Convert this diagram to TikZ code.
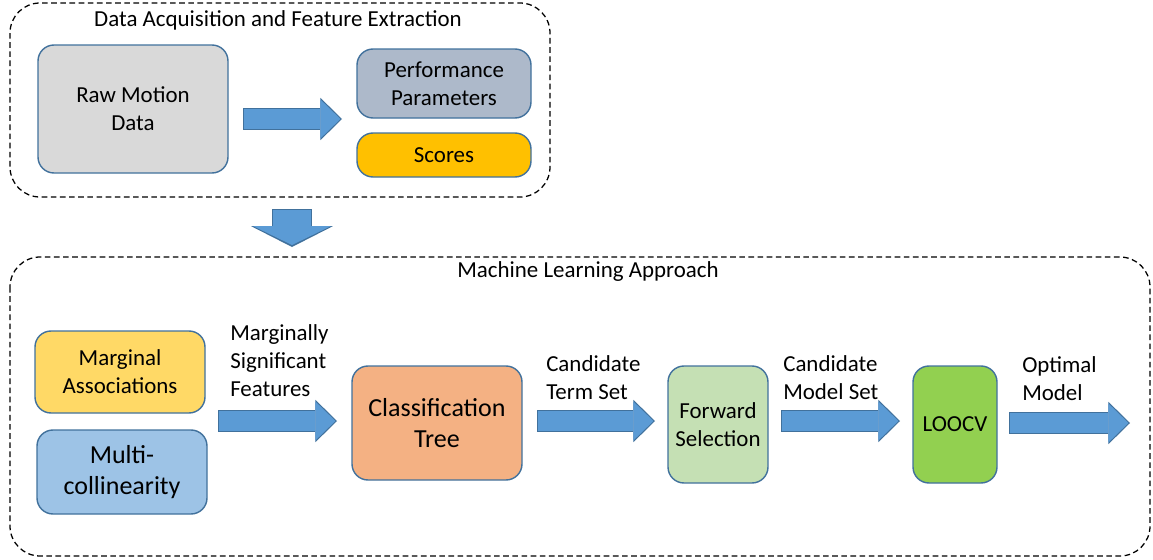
\documentclass[tikz,border=0pt]{standalone}
\usepackage{fontspec}
\setmainfont{Carlito}
\usetikzlibrary{arrows.meta,positioning}
\definecolor{boxline}{RGB}{65,113,156}
\definecolor{rawcolor}{RGB}{217,217,217}
\definecolor{perfcolor}{RGB}{173,185,202}
\definecolor{scorecolor}{RGB}{255,192,0}
\definecolor{assoccolor}{RGB}{255,217,102}
\definecolor{multicolor}{RGB}{157,195,230}
\definecolor{treecolor}{RGB}{244,177,131}
\definecolor{fwdcolor}{RGB}{197,224,180}
\definecolor{loocvcolor}{RGB}{146,208,80}
\definecolor{arrowfill}{RGB}{91,155,213}

\begin{document}
\begin{tikzpicture}[
    font=\fontsize{16.3}{19.9}\selectfont,
    box/.style={rectangle, draw=boxline, line width=1pt, rounded corners=0.4cm, align=center, inner sep=2pt},
    bigtext/.style={font=\fontsize{18.5}{22.5}\selectfont},
    groupbox/.style={draw=black, line width=0.9pt, dash pattern=on 4pt off 2.5pt, rounded corners=0.75cm},
    lbl/.style={align=left, anchor=west, inner sep=0pt},
    fat/.style={draw=arrowfill, line width=0.5cm, -{Triangle[width=0.975cm,length=0.5cm,line width=0pt]},
        shorten <=0.03cm, shorten >=0.04cm,
        preaction={draw=boxline, line width=0.55cm, shorten <=0pt, shorten >=0pt,
            -{Triangle[width=1.06cm,length=0.54cm,line width=0pt]}}},
    fatdown/.style={draw=arrowfill, line width=0.95cm, -{Triangle[width=1.95cm,length=0.475cm,line width=0pt]},
        shorten <=0.03cm, shorten >=0.05cm,
        preaction={draw=boxline, line width=1.0cm, shorten <=0pt, shorten >=0pt,
            -{Triangle[width=2.04cm,length=0.52cm,line width=0pt]}}}
]
\useasboundingbox (0,0) rectangle (28.825,-14);

% Data acquisition
\draw[groupbox] (0.25,-0.075) rectangle (13.75,-4.925);
\node (acqtitle) at (6.95,-0.5) {Data Acquisition and Feature Extraction};
\node[box, fill=rawcolor, minimum width=4.75cm, minimum height=3.2cm] (raw) at (3.325,-2.725) {Raw Motion\\Data};
\node[box, fill=perfcolor, minimum width=4.35cm, minimum height=1.725cm] (perf) at (11.1,-2.0875) {Performance\\Parameters};
\node[box, fill=scorecolor, minimum width=4.35cm, minimum height=1.1cm] (scores) at (11.1,-3.875) {Scores};

% Machine learning
\draw[groupbox] (0.25,-6.425) rectangle (28.75,-13.9);
\node (mltitle) at (14.7,-6.8) {Machine Learning Approach};
\node[box, fill=assoccolor, minimum width=4.25cm, minimum height=2.05cm] (assoc) at (3.0,-9.3) {Marginal\\Associations};
\node[box, bigtext, fill=multicolor, minimum width=4.25cm, minimum height=2.1cm] (multi) at (3.05,-11.8) {Multi-\\collinearity};
\node[box, bigtext, fill=treecolor, minimum width=4.25cm, minimum height=2.85cm] (tree) at (10.925,-10.575) {Classification\\Tree};
\node[box, fill=fwdcolor, minimum width=2.5cm, minimum height=2.925cm] (fwd) at (17.95,-10.6125) {Forward\\Selection};
\node[box, fill=loocvcolor, minimum width=2.1cm, minimum height=2.925cm] (loocv) at (23.875,-10.6125) {LOOCV};

% Labels
\node[lbl] (sigfeat) at (5.75,-9.025) {Marginally\\Significant\\Features};
\node[lbl] (termset) at (13.65,-9.45) {Candidate\\Term Set};
\node[lbl] (modelset) at (19.575,-9.45) {Candidate\\Model Set};
\node[lbl] (optmodel) at (25.55,-9.475) {Optimal\\Model};

% Arrows
\coordinate (a0s) at (6.075,-2.975);
\coordinate (a0e) at (8.55,-2.975);
\coordinate (d0s) at (7.3,-5.225);
\coordinate (d0e) at (7.3,-6.175);
\coordinate (a1s) at (5.45,-10.525);
\coordinate (a1e) at (8.425,-10.525);
\coordinate (a2s) at (13.425,-10.525);
\coordinate (a2e) at (16.375,-10.525);
\coordinate (a3s) at (19.525,-10.525);
\coordinate (a3e) at (22.5,-10.525);
\coordinate (a4s) at (25.225,-10.575);
\coordinate (a4e) at (28.25,-10.575);

\draw[fat] (a0s) -- (a0e);
\draw[fatdown] (d0s) -- (d0e);
\draw[fat] (a1s) -- (a1e);
\draw[fat] (a2s) -- (a2e);
\draw[fat] (a3s) -- (a3e);
\draw[fat] (a4s) -- (a4e);

\end{tikzpicture}
\end{document}
